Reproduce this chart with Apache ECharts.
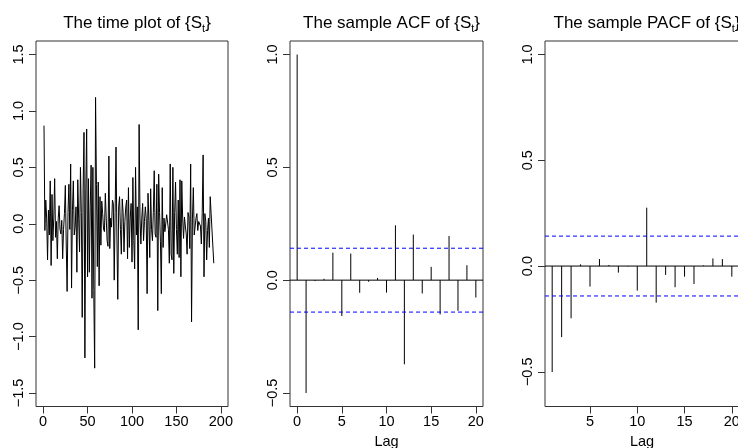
<!DOCTYPE html>
<html>
<head>
<meta charset="utf-8">
<script src="https://cdn.jsdelivr.net/npm/echarts@6/dist/echarts.min.js"></script>
<style>html,body{margin:0;padding:0;background:#fff}#c{width:738px;height:448px}</style>
</head>
<body>
<div id="c"></div>
<script>
// Time series {S_t}, t = 1..192
const seriesS = [
 0.87,-0.06,0.21,0.05,-0.32,0.12,-0.10,0.38,-0.37,0.26,
 -0.15,0.05,0.40,-0.12,0.02,-0.31,0.05,0.16,-0.05,-0.09,
 0.03,-0.31,-0.05,0.09,0.34,-0.18,-0.60,0.10,0.35,-0.05,
 0.53,-0.57,0.12,0.38,-0.10,-0.03,0.15,-0.43,0.39,0.05,
 -0.25,0.50,0.10,-0.83,0.31,0.81,-1.19,0.30,0.84,-0.47,
 0.40,-0.43,0.15,0.52,-0.66,0.50,-0.59,-1.28,1.12,0.35,
 -0.38,0.37,-0.55,0.24,-0.19,0.20,0.09,-0.05,-0.07,0.27,
 0.05,-0.15,-0.20,0.60,-0.22,0.05,-0.03,0.21,0.18,-0.50,
 0.10,0.68,-0.10,-0.67,0.15,0.24,-0.05,-0.27,0.22,0.10,
 -0.25,0.02,0.15,0.21,-0.31,0.32,-0.21,0.05,0.18,-0.34,
 0.41,-0.15,-0.40,0.50,-0.10,0.15,-0.94,0.88,0.05,-0.18,
 0.05,0.18,-0.15,0.02,0.15,0.05,-0.62,0.27,0.03,-0.30,
 0.31,-0.05,-0.15,0.10,0.47,-0.09,-0.12,0.35,-0.77,0.44,
 0.10,-0.16,-0.62,0.32,-0.21,0.05,-0.07,-0.06,0.08,0.09,
 -0.05,-0.35,0.53,-0.27,-0.32,0.50,-0.44,0.10,0.37,-0.05,
 -0.27,0.21,-0.30,0.39,-0.47,0.38,0.05,-0.13,0.06,-0.02,
 -0.09,-0.27,0.10,0.06,-0.22,0.53,-0.87,0.05,0.32,-0.10,
 -0.09,0.05,0.09,-0.06,0.02,0.03,-0.02,-0.18,0.10,0.61,
 -0.47,0.09,0.02,-0.32,-0.06,0.05,-0.21,0.24,0.09,0.10,
 0.08,-0.35
];
// Sample ACF, lags 0..20
const acfLags = [0,1,2,3,4,5,6,7,8,9,10,11,12,13,14,15,16,17,18,19,20];
const acfValues = [1.0,-0.50,-0.004,0.006,0.122,-0.159,0.118,-0.056,-0.007,0.010,
 -0.055,0.243,-0.373,0.202,-0.059,0.059,-0.152,0.196,-0.136,0.066,-0.077];
// Sample PACF, lags 1..20
const pacfLags = [1,2,3,4,5,6,7,8,9,10,11,12,13,14,15,16,17,18,19,20];
const pacfValues = [-0.501,-0.336,-0.247,0.008,-0.097,0.033,0.005,-0.031,-0.002,-0.116,
 0.276,-0.173,-0.042,-0.100,-0.050,-0.085,0.003,0.036,0.033,-0.050];
// confidence bounds (upper, lower) and the zero reference
const ciBounds = [0.1415, -0.1415];
const zeroLine = [0];
// tick labels
const tsXTicks = [0,50,100,150,200];
const tsYTicks = [-1.5,-1.0,-0.5,0.0,0.5,1.0,1.5];
const acfXTicks = [0,5,10,15,20];
const acfYTicks = [-0.5,0.0,0.5,1.0];
const pacfXTicks = [5,10,15,20];
const pacfYTicks = [-0.5,0.0,0.5,1.0];
const titles = ['The time plot of ', 'The sample ACF of ', 'The sample PACF of '];

const FONT = "'Liberation Sans', Arial, Helvetica, sans-serif";
const TICKFS = 14.5;
const fmt = v => (v < 0 ? '\u2212' : '') + Math.abs(v).toFixed(1);
const fmtInt = v => String(v);

const grids = [
  {left: 36, top: 41, width: 192, height: 365.5},
  {left: 290, top: 41, width: 193, height: 365.5},
  {left: 545, top: 41, width: 194, height: 365.5}
];
const xRanges = [[-8, 208], [-0.8, 20.8], [0.24, 20.76]];
const yRanges = [[-1.62, 1.62], [-0.56, 1.06], [-0.664, 1.064]];
const xTicks = [tsXTicks, acfXTicks, pacfXTicks];
const yTicks = [tsYTicks, acfYTicks, pacfYTicks];

function xAxisCfg(i) {
  return {
    type: 'value', gridIndex: i, min: xRanges[i][0], max: xRanges[i][1], position: 'bottom',
    name: i === 0 ? '' : 'Lag', nameLocation: 'middle', nameGap: 27,
    nameTextStyle: {fontFamily: FONT, fontSize: TICKFS, color: '#000'},
    axisLine: {show: false, onZero: false},
    axisTick: {show: true, length: 7, lineStyle: {color: '#333', width: 1}, customValues: xTicks[i]},
    axisLabel: {show: true, fontFamily: FONT, fontSize: TICKFS, color: '#000', margin: 8,
      customValues: xTicks[i], formatter: fmtInt},
    splitLine: {show: false}
  };
}
function yAxisCfg(i) {
  return {
    type: 'value', gridIndex: i, min: yRanges[i][0], max: yRanges[i][1], position: 'left',
    axisLine: {show: false, onZero: false},
    axisTick: {show: true, length: 7, lineStyle: {color: '#333', width: 1}, customValues: yTicks[i]},
    axisLabel: {show: true, fontFamily: FONT, fontSize: TICKFS, color: '#000', margin: 10, rotate: 90,
      customValues: yTicks[i], formatter: fmt},
    splitLine: {show: false}
  };
}

function stemSeries(i, lags, vals) {
  return {
    type: 'custom', xAxisIndex: i, yAxisIndex: i,
    data: lags.map((l, k) => [l, vals[k]]),
    renderItem: function (params, api) {
      const p0 = api.coord([api.value(0), 0]);
      const p1 = api.coord([api.value(0), api.value(1)]);
      return {type: 'line', shape: {x1: p0[0], y1: p0[1], x2: p1[0], y2: p1[1]},
        style: {stroke: '#000', lineWidth: 1}};
    },
    silent: true, animation: false
  };
}
// horizontal reference lines spanning the whole plot region
function hLines(i, values, color, dash) {
  return {
    type: 'custom', xAxisIndex: i, yAxisIndex: i, silent: true, animation: false, clip: true,
    data: values.map(v => [v]),
    dimensions: ['y'],
    encode: {y: 0},
    renderItem: function (params, api) {
      const y = api.value(0);
      const a = api.coord([xRanges[i][0], y]);
      const b = api.coord([xRanges[i][1], y]);
      return {type: 'line', shape: {x1: a[0], y1: a[1], x2: b[0], y2: b[1]},
        style: {stroke: color, lineWidth: 1, lineDash: dash}};
    }
  };
}

const titleOpts = titles.map((t, i) => ({
  text: t + '{S{sub|t}}',
  left: grids[i].left + grids[i].width / 2, top: 7, textAlign: 'center',
  textStyle: {fontFamily: FONT, fontSize: 17, fontWeight: 'normal', color: '#000', lineHeight: 22,
    rich: {sub: {fontFamily: FONT, fontSize: 11, lineHeight: 11, verticalAlign: 'bottom', color: '#000'}}}
}));

const chart = echarts.init(document.getElementById('c'), null, {renderer: 'canvas'});
chart.setOption({
  backgroundColor: '#fff',
  animation: false,
  title: titleOpts,
  grid: grids.map(g => Object.assign({show: true, borderColor: '#333', borderWidth: 1,
    backgroundColor: 'transparent', containLabel: false, outerBoundsMode: 'none'}, g)),
  xAxis: [0, 1, 2].map(xAxisCfg),
  yAxis: [0, 1, 2].map(yAxisCfg),
  series: [
    {type: 'line', xAxisIndex: 0, yAxisIndex: 0, symbol: 'none', animation: false,
      data: seriesS.map((v, k) => [k + 1, v]), lineStyle: {color: '#000', width: 1}},
    stemSeries(1, acfLags, acfValues),
    hLines(1, zeroLine, '#000', null),
    hLines(1, ciBounds, '#0000ff', [4, 3]),
    stemSeries(2, pacfLags, pacfValues),
    hLines(2, zeroLine, '#000', null),
    hLines(2, ciBounds, '#0000ff', [4, 3])
  ]
});
</script>
</body>
</html>
